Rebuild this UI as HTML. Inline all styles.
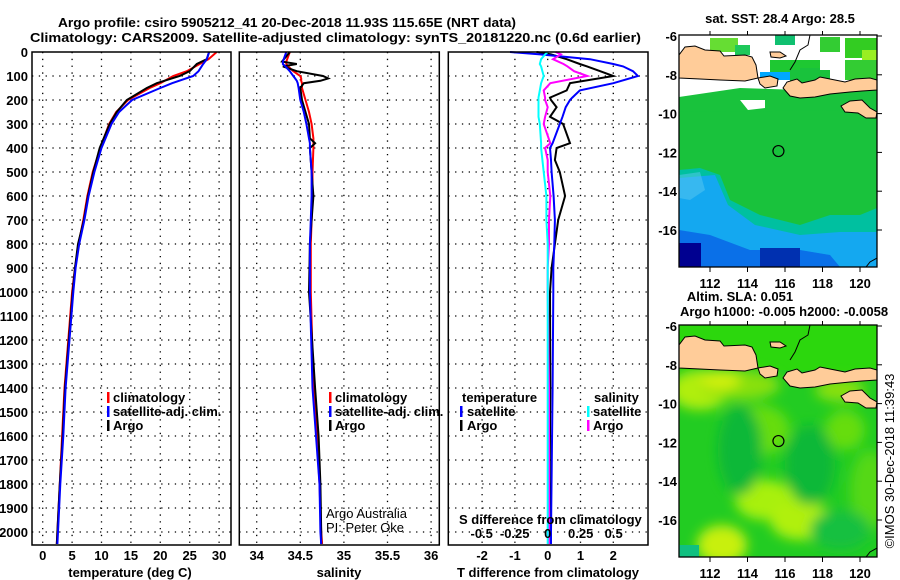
<!DOCTYPE html>
<html><head><meta charset="utf-8"><style>
html,body{margin:0;padding:0;background:#fff;width:900px;height:580px;overflow:hidden}
svg text{font-family:"Liberation Sans",sans-serif;font-weight:bold;font-size:13px;fill:#000}
</style></head><body>
<svg id="fig" width="900" height="580" viewBox="0 0 900 580" xmlns="http://www.w3.org/2000/svg">
<text x="58" y="27" font-size="14" textLength="458" lengthAdjust="spacingAndGlyphs">Argo profile: csiro 5905212_41 20-Dec-2018 11.93S 115.65E (NRT data)</text>
<text x="30" y="42" font-size="14" textLength="611" lengthAdjust="spacingAndGlyphs">Climatology: CARS2009. Satellite-adjusted climatology: synTS_20181220.nc (0.6d earlier)</text>
<g id="plots"></g>
<g id="maps"></g>
<text transform="translate(894,461) rotate(-90)" text-anchor="middle" font-weight="normal" style="font-weight:normal" font-size="13">©IMOS 30-Dec-2018 11:39:43</text>
</svg>
<script>
// ---- data ----
const tDepth = [0,30,50,80,100,130,150,200,250,300,400,500,600,700,800,900,1000,1400,1600,1800,2000,2050];
const tArgo  = [28.3,27.9,26.2,25,23.3,19.4,17.7,14.3,12.6,11.4,9.7,8.6,7.7,7,6,5.5,5.1,3.8,3.4,2.9,2.5,2.4];
const tClim  = [29.6,28.2,26.7,24.5,22.2,20,18.2,14.5,12.5,11.3,9.8,8.5,7.6,6.9,6.1,5.5,5.0,3.7,3.3,2.9,2.5,2.4];
const tSat   = [28.3,27.9,27.3,26.5,25.6,22,20,15.2,13,11.7,10,8.8,7.8,7.1,6.2,5.6,5.2,3.9,3.5,3.0,2.6,2.5];
const sDepth = [0,40,50,60,80,100,110,120,130,150,200,250,300,360,380,400,500,600,700,800,1000,1400,1600,1800,2000,2050];
const sArgo  = [34.38,34.29,34.46,34.30,34.46,34.76,34.82,34.73,34.54,34.50,34.52,34.56,34.60,34.61,34.67,34.61,34.63,34.65,34.63,34.61,34.60,34.67,34.71,34.73,34.74,34.74];
const sClim  = [34.38,34.34,34.34,34.36,34.42,34.50,34.51,34.51,34.52,34.52,34.56,34.60,34.63,34.65,34.65,34.65,34.64,34.64,34.63,34.62,34.62,34.65,34.69,34.72,34.74,34.75];
const sSat   = [34.34,34.30,34.30,34.33,34.38,34.42,34.44,34.46,34.47,34.48,34.50,34.54,34.57,34.60,34.61,34.61,34.63,34.63,34.62,34.61,34.61,34.64,34.68,34.72,34.73,34.74];
const dDepth = [0,10,30,50,60,80,100,130,160,190,200,230,270,300,380,400,450,500,600,700,800,900,1000,1400,2000,2050];
const dTArgo = [-0.34,0.1,0.58,0.98,1.2,1.6,2.0,0.68,0.58,0.07,0.1,0.27,0.07,0.47,0.68,0.27,0.22,0.37,0.53,0.32,0.22,0.12,0.07,0.08,0.05,0.05];
const dTSat  = [-1.15,-0.23,1.29,2.0,2.3,2.6,2.75,2.0,0.98,0.75,0.68,0.55,0.45,0.37,0.15,0.07,0.1,0.12,0.18,0.22,0.2,0.17,0.17,0.15,0.1,0.1];
const dSArgo = [0.06,0.1,0.04,0.12,0.15,0.2,0.3,0.02,-0.03,-0.02,-0.02,0,-0.02,-0.03,0.02,-0.02,0,0,0.02,0.01,0.01,0,0,0.01,0.01,0.01];
const dSSat  = [0,-0.02,-0.05,-0.06,-0.05,-0.04,-0.03,-0.05,-0.06,-0.07,-0.07,-0.07,-0.07,-0.06,-0.05,-0.05,-0.04,-0.03,-0.01,-0.01,0,0,0,0,0,0];
const depthTicks = [0,100,200,300,400,500,600,700,800,900,1000,1100,1200,1300,1400,1500,1600,1700,1800,1900,2000];
const tTicks = [0,5,10,15,20,25,30];
const sTicks = ["34","34.5","35","35.5","36"];
const dTTicks = [-2,-1,0,1,2];
const dSTicks = ["-0.5","-0.25","0","0.25","0.5"];

const NS="http://www.w3.org/2000/svg";
function el(tag,attrs,parent,txt){const e=document.createElementNS(NS,tag);for(const k in attrs)e.setAttribute(k,attrs[k]);if(txt!==undefined)e.textContent=txt;parent.appendChild(e);return e;}
const plots=document.getElementById('plots');
const yD = d => 52 + d*0.24;
const xT = t => 42.7 + t*5.88;
const xS = s => 256.7 + (s-34)*87.2;
const xDT = t => 547.7 + t*32.8;
const xDS = s => 547.7 + s*132;
const TOP=52, BOT=545;

function panel(name,x0,x1,gridX){
  const g=el('g',{},plots);
  
  
  depthTicks.forEach(d=>{ if(d>0){const l=el('line',{x1:x0,x2:x1,y1:yD(d),y2:yD(d),stroke:'#000','stroke-width':1.3,'stroke-dasharray':'1.3 5.5'},g);
    }});
  gridX.forEach(x=>{const l=el('line',{x1:x,x2:x,y1:TOP,y2:BOT,stroke:'#000','stroke-width':1.3,'stroke-dasharray':'1.3 5.5'},g);
    });
  return g;
}
function frame(g,x0,x1){const r=el('rect',{x:x0,y:TOP,width:x1-x0,height:BOT-TOP,fill:'none',stroke:'#000','stroke-width':1.5},g);
  }
function series(g,name,xs,ds,fx,color,w){
  const pts=xs.map((v,i)=>fx(v).toFixed(1)+','+yD(ds[i]).toFixed(1)).join(' ');
  const p=el('polyline',{points:pts,fill:'none',stroke:color,'stroke-width':w||2},g);
  
}
function txt(g,name,x,y,s,anchor,extra){const t=el('text',Object.assign({x:x,y:y,'text-anchor':anchor||'start'},extra||{}),g,s);
  return t;}
function legendBar(g,name,x,y,c){const r=el('rect',{x:x,y:y-10,width:2.5,height:11,fill:c},g);
  }

// panel 1
let g1=panel('temperature-panel',32,231,tTicks.map(xT));
series(g1,'temperature-climatology-line',tClim,tDepth,xT,'#f00');
series(g1,'temperature-argo-line',tArgo,tDepth,xT,'#000');
series(g1,'temperature-satellite-line',tSat,tDepth,xT,'#00f');
frame(g1,32,231);
depthTicks.forEach(d=>txt(g1,'depth-tick-label',28,yD(d)+5,String(d),'end'));
tTicks.forEach(t=>txt(g1,'temperature-tick-label',xT(t),560,String(t),'middle'));
txt(g1,'temperature-axis-title',130,577,'temperature (deg C)','middle');
legendBar(g1,'legend-climatology-swatch',107,402,'#f00');txt(g1,'legend-climatology',113,402,'climatology');
legendBar(g1,'legend-satellite-swatch',107,416,'#00f');txt(g1,'legend-satellite-adj',113,416,'satellite-adj. clim.');
legendBar(g1,'legend-argo-swatch',107,430,'#000');txt(g1,'legend-argo',113,430,'Argo');

// panel 2
let g2=panel('salinity-panel',239.3,439.3,sTicks.map(s=>xS(+s)));
series(g2,'salinity-climatology-line',sClim,sDepth,xS,'#f00');
series(g2,'salinity-argo-line',sArgo,sDepth,xS,'#000');
series(g2,'salinity-satellite-line',sSat,sDepth,xS,'#00f');
frame(g2,239.3,439.3);
sTicks.forEach(s=>txt(g2,'salinity-tick-label',xS(+s),560,s,'middle'));
txt(g2,'salinity-axis-title',339,577,'salinity','middle');
legendBar(g2,'legend-climatology-swatch',329,402,'#f00');txt(g2,'legend-climatology',335,402,'climatology');
legendBar(g2,'legend-satellite-swatch',329,416,'#00f');txt(g2,'legend-satellite-adj',335,416,'satellite-adj. clim.');
legendBar(g2,'legend-argo-swatch',329,430,'#000');txt(g2,'legend-argo',335,430,'Argo');
txt(g2,'credit-argo-australia',326,518,'Argo Australia','start',{style:'font-weight:normal'});
txt(g2,'credit-pi',326,532,'PI: Peter Oke','start',{style:'font-weight:normal'});

// panel 3
let g3=panel('difference-panel',448.3,648,dTTicks.map(xDT));
series(g3,'temperature-argo-diff-line',dTArgo,dDepth,xDT,'#000');
series(g3,'temperature-satellite-diff-line',dTSat,dDepth,xDT,'#00f');
series(g3,'salinity-argo-diff-line',dSArgo,dDepth,xDS,'#f0f');
series(g3,'salinity-satellite-diff-line',dSSat,dDepth,xDS,'#0ff');
frame(g3,448.3,648);
txt(g3,'legend-temperature-header',462,402,'temperature');
legendBar(g3,'legend-t-satellite-swatch',460,416,'#00f');txt(g3,'legend-t-satellite',467,416,'satellite');
legendBar(g3,'legend-t-argo-swatch',460,430,'#000');txt(g3,'legend-t-argo',467,430,'Argo');
txt(g3,'legend-salinity-header',594,402,'salinity');
legendBar(g3,'legend-s-satellite-swatch',587,416,'#0ff');txt(g3,'legend-s-satellite',593,416,'satellite');
legendBar(g3,'legend-s-argo-swatch',587,430,'#f0f');txt(g3,'legend-s-argo',593,430,'Argo');
txt(g3,'s-diff-axis-title',459,524,'S difference from climatology');
dSTicks.forEach(s=>txt(g3,'s-diff-tick-label',xDS(+s),538,s,'middle'));
dTTicks.forEach(t=>txt(g3,'t-diff-tick-label',xDT(t),560,String(t),'middle'));
txt(g3,'t-diff-axis-title',548,577,'T difference from climatology','middle');

// ---- maps ----
const maps=document.getElementById('maps');
const lonTicks=[112,114,116,118,120];
const latTicks=[-6,-8,-10,-12,-14,-16];
const lonX = lon => 710 + (lon-112)*18.75;
function mapFrame(name,y0,isSST){
  const oy=y0-35;
  const g=el('g',{transform:'translate(0,'+oy+')'},maps);
  
  const latY = lat => 36 + (-6-lat)*19.4;
  el('clipPath',{id:'clip'+oy},g).appendChild(Object.assign(document.createElementNS(NS,'rect'),{}));
  const cp=g.lastChild.firstChild;cp.setAttribute('x',679);cp.setAttribute('y',35);cp.setAttribute('width',198);cp.setAttribute('height',232);
  const body=el('g',{'clip-path':'url(#clip'+oy+')'},g);
  if(isSST){
    el('rect',{x:679,y:35,width:198,height:232,fill:'#19c23c'},body);
    el('rect',{x:679,y:35,width:198,height:62,fill:'#fff'},body);
    // green patches in north
    [[710,38,28,14,'#66dd33'],[735,45,15,10,'#1ec85a'],[775,35,20,10,'#10c070'],[820,37,20,15,'#33cc33'],[845,38,32,20,'#33cc22'],[770,60,50,18,'#1ec832'],[790,70,40,14,'#19c23c'],[760,72,30,8,'#00a8ff'],[800,68,20,10,'#19c23c'],[845,60,32,20,'#33cc33'],[862,50,15,10,'#99ee22']].forEach(a=>el('rect',{x:a[0],y:a[1],width:a[2],height:a[3],fill:a[4]},body));
    el('path',{d:'M679,97 L740,88 L800,90 L877,85 L877,110 L679,112Z',fill:'#19c23c'},body);
    el('path',{d:'M740,100 L765,100 L765,108 L748,110Z',fill:'#fff'},body);
    el('path',{d:'M679,170 L700,168 L720,175 L730,200 L760,215 L800,225 L830,215 L860,215 L877,208 L877,267 L679,267Z',fill:'#00c0a0'},body);
    el('path',{d:'M679,178 L715,175 L728,205 L755,225 L800,235 L840,232 L877,232 L877,267 L679,267Z',fill:'#14a8f0'},body);
    el('path',{d:'M679,230 L710,235 L750,250 L800,250 L830,255 L840,267 L679,267Z',fill:'#0a70e8'},body);
    el('rect',{x:679,y:243,width:22,height:24,fill:'#000090'},body);
    el('rect',{x:760,y:248,width:40,height:19,fill:'#0030b0'},body);
    el('path',{d:'M679,175 L700,172 L705,190 L690,200 L679,198Z',fill:'#5ac8f0','opacity':0.5},body);
  } else {
    el('rect',{x:679,y:35,width:198,height:232,fill:'#22cc22'},body);
    const f=el('filter',{id:'blur',x:'-20%',y:'-20%',width:'140%',height:'140%'},body);
    el('feGaussianBlur',{stdDeviation:6},f);
    const bg=el('g',{filter:'url(#blur)'},body);
    [[700,100,30,20,'#b0ee10'],[740,95,40,15,'#88e010'],[760,140,30,25,'#66dd11'],[765,210,30,20,'#a8f010'],[800,230,30,20,'#b0f010'],[722,255,25,20,'#c8f010'],[845,140,20,20,'#66dd11'],[840,100,25,12,'#88e010'],[870,200,20,40,'#55d815'],[720,90,20,10,'#d0f010']].forEach(a=>el('ellipse',{cx:a[0],cy:a[1],rx:a[2],ry:a[3],fill:a[4]},bg));
    [[740,160,22,45,'#10b838'],[810,175,25,40,'#10b838'],[840,240,30,20,'#14c040']].forEach(a=>el('ellipse',{cx:a[0],cy:a[1],rx:a[2],ry:a[3],fill:a[4]},bg));
    el('rect',{x:679,y:255,width:20,height:12,fill:'#10c080'},body);
    el('rect',{x:679,y:35,width:198,height:45,fill:'#33dd00','opacity':0.6},body);
  }
  // land
  const land='#ffcc99';
  [['M679,55 L685,47 L695,46 L705,50 L720,51 L724,56 L745,55 L752,57 L756,65 L758,78 L745,81 L720,80 L700,79 L679,78Z','java'],
   ['M758,78 L770,76 L778,79 L777,86 L765,88 L760,84Z','bali'],
   ['M783,88 L787,82 L797,79 L802,83 L815,80 L820,77 L830,79 L845,82 L855,79 L870,78 L877,80 L877,90 L862,91 L850,92 L830,94 L815,97 L800,98 L790,96Z','nusa-tenggara'],
   ['M841,106 L850,101 L862,100 L870,108 L877,112 L876,118 L866,118 L858,113 L845,112Z','sumba'],
   ['M770,52 L780,52 L786,56 L780,58 L771,57Z','madura']].forEach(p=>{
     const e=el('path',{d:p[0],fill:land,stroke:'#000','stroke-width':1},body);
     });
  el('path',{d:'M810,35 L808,45 L800,50 L795,62 L790,70',fill:'none',stroke:'#000','stroke-width':1},body);
  el('path',{d:'M866,267 L870,262 L877,258',fill:'none',stroke:'#000','stroke-width':1},body);
  const c=el('circle',{cx:lonX(115.65),cy:latY(-11.93),r:5.5,fill:'none',stroke:'#000','stroke-width':1.2},g);
  
  el('rect',{x:679,y:35,width:198,height:232,fill:'none',stroke:'#000','stroke-width':1.3},g);
  lonTicks.forEach(l=>{el('line',{x1:lonX(l),x2:lonX(l),y1:267,y2:272,stroke:'#000'},g);
    el('line',{x1:lonX(l),x2:lonX(l),y1:35,y2:31,stroke:'#000'},g);
    txt(g,'map-lon-label',lonX(l),288,String(l),'middle');});
  latTicks.forEach(l=>{el('line',{x1:877,x2:882,y1:latY(l),y2:latY(l),stroke:'#000'},g);
    txt(g,'map-lat-label',677,latY(l)+5,String(l),'end');});
}
mapFrame('sst-map',35,true);
mapFrame('sla-map',325,false);
const mt=[['sst-map-title',780,23,'sat. SST: 28.4 Argo: 28.5'],['sla-map-title',740,301,'Altim. SLA: 0.051'],['sla-map-subtitle',784,316,'Argo h1000: -0.005 h2000: -0.0058']];
mt.forEach(a=>{const t=el('text',{x:a[1],y:a[2],'text-anchor':'middle'},maps,a[3]);
  });
</script>
</body></html>
